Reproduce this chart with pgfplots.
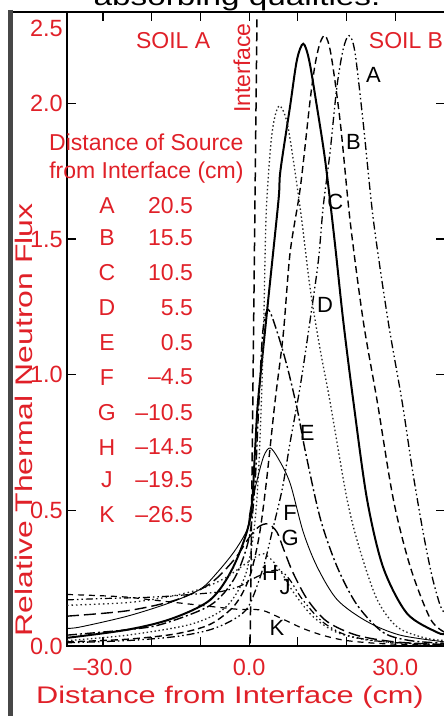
\documentclass[border=0pt]{standalone}
\usepackage{pgfplots}
\pgfplotsset{compat=1.18}
\usepackage{fontspec}
\setmainfont{Liberation Sans}
\newfontfamily\xlabfamily[FakeStretch=1.28]{Liberation Sans}
\newfontfamily\ylabfamily[FakeStretch=1.33]{Liberation Sans}
\definecolor{figred}{RGB}{224,32,40}
\newcommand{\tickfont}{\fontsize{23.5bp}{26bp}\selectfont}
\newcommand{\redfont}{\fontsize{23bp}{27bp}\selectfont}
\newcommand{\curvefont}{\fontsize{22bp}{26bp}\selectfont}
\begin{document}
\begin{tikzpicture}
\useasboundingbox (0,0) rectangle (444bp,716bp);
\begin{axis}[
  at={(67bp,70bp)}, anchor=south west,
  scale only axis, width=378bp, height=634bp,
  xmin=-37.4, xmax=40.2, ymin=0, ymax=2.337,
  axis line style={line width=1.3bp},
  tick align=inside, major tick length=9bp,
  every tick/.style={black, line width=1.2bp},
  xtick={-30,-20,-10,0,10,20,30},
  xticklabels={{–30.0},{},{},{0.0},{},{},{30.0}},
  ytick={0,0.5,1,1.5,2},
  yticklabels={{0.0},{0.5},{1.0},{1.5},{2.0}},
  extra y ticks={2.278}, extra y tick labels={{2.5}},
  extra y tick style={major tick length=0pt},
  ticklabel style={font=\tickfont, text=figred, inner sep=0pt},
  xticklabel style={anchor=north, yshift=-13bp},
  yticklabel style={anchor=east, xshift=-4bp},
  clip=true, clip mode=individual,
]
% Interface line
\addplot[black, line width=1.5bp, dash pattern=on 9bp off 5bp] coordinates {(0.2,0.01) (1.6,2.31)};
% A (20.5)
\addplot[black, line width=1.3bp, smooth, tension=0.5, dash pattern=on 8bp off 3bp on 1.5bp off 3bp on 1.5bp off 3bp] coordinates {
(-37.4,0.012)(-25,0.02)(-15,0.035)(-8,0.06)(-3,0.1)(0,0.15)(2.9,0.29)(4.7,0.42)(6.8,0.58)(8.4,0.75)(10.5,0.96)(12.5,1.2)(14.2,1.42)(15.2,1.62)(16.6,1.82)(18,2.06)(19.3,2.2)(20.5,2.25)(21.7,2.19)(23.4,1.93)(25.5,1.57)(28.5,1.2)(31.4,0.9)(33.5,0.65)(35.7,0.42)(37.5,0.26)(39.2,0.15)(40.2,0.12)};
% B (15.5)
\addplot[black, line width=1.4bp, smooth, tension=0.5, dash pattern=on 7bp off 4bp] coordinates {
(-37.4,0.015)(-25,0.025)(-15,0.045)(-8,0.08)(-3,0.15)(0,0.25)(2,0.4)(3.5,0.6)(5.3,0.9)(7,1.15)(8.4,1.45)(10.5,1.69)(12.5,2.01)(13.5,2.14)(14.5,2.22)(15.6,2.25)(16.8,2.18)(18.7,1.93)(20.7,1.57)(23.4,1.2)(26.3,0.9)(29.6,0.54)(33.1,0.29)(37.2,0.10)(40.2,0.05)};
% C (10.5)
\addplot[black, line width=2bp, smooth, tension=0.5] coordinates {
(-37.4,0.03)(-25,0.06)(-16,0.1)(-8,0.17)(-3.3,0.29)(0.2,0.47)(1.2,0.72)(1.8,0.9)(3.7,1.24)(6,1.64)(6.4,1.75)(8.4,1.99)(9.8,2.16)(11.1,2.22)(12.3,2.16)(13.8,2.0)(15.6,1.79)(17.5,1.5)(19.3,1.2)(21.4,0.9)(24.2,0.54)(27.5,0.29)(32.4,0.12)(38.6,0.05)(40.2,0.045)};
% D (5.5)
\addplot[black!85, line width=1.3bp, smooth, tension=0.5, dash pattern=on 1.5bp off 2.5bp] coordinates {
(-37.4,0.02)(-25,0.04)(-12,0.08)(-5,0.14)(-1,0.25)(0.8,0.4)(1.8,0.6)(2.5,0.9)(3.0,1.2)(3.5,1.6)(4.5,1.86)(5.4,1.96)(6.4,1.99)(8,1.91)(10.5,1.61)(12.5,1.32)(14.5,1.1)(16.6,0.9)(20.1,0.54)(22.8,0.35)(26.3,0.17)(30.4,0.07)(36,0.03)(40.2,0.02)};
% E (0.5)
\addplot[black, line width=1.4bp, smooth, tension=0.5, dash pattern=on 10bp off 3bp on 2bp off 3bp] coordinates {
(-37.4,0.04)(-25,0.06)(-18,0.08)(-8,0.15)(-3,0.25)(0,0.4)(1.2,0.6)(2,0.9)(2.8,1.16)(3.9,1.24)(5.7,1.16)(7.8,1.03)(9.9,0.87)(11.5,0.72)(14.6,0.47)(18.1,0.29)(22.2,0.15)(27.5,0.05)(33,0.02)(40.2,0.01)};
% F (-4.5)
\addplot[black, line width=0.9bp, smooth, tension=0.5] coordinates {
(-37.4,0.065)(-34.7,0.07)(-25,0.11)(-16.2,0.16)(-10,0.21)(-6.6,0.27)(-3,0.35)(-0.4,0.43)(0.2,0.5)(1.6,0.61)(3,0.7)(4.3,0.73)(6,0.69)(8.4,0.6)(11.1,0.42)(14,0.29)(18.1,0.17)(24.2,0.09)(31,0.04)(40.2,0.015)};
% G (-10.5)
\addplot[black, line width=1.4bp, smooth, tension=0.5, dash pattern=on 12bp off 5bp] coordinates {
(-37.4,0.11)(-25,0.13)(-15,0.17)(-8,0.23)(-3,0.32)(0,0.4)(2,0.44)(3.9,0.45)(5.7,0.42)(7,0.36)(9,0.27)(12,0.17)(16,0.09)(22,0.04)(30,0.015)(40.2,0.005)};
% H (-14.5)
\addplot[black!85, line width=1.3bp, smooth, tension=0.5, dash pattern=on 1.5bp off 3bp] coordinates {
(-37.4,0.15)(-25,0.16)(-17,0.18)(-10,0.21)(-5,0.25)(-1,0.3)(1.5,0.33)(3,0.34)(5,0.31)(7,0.26)(9,0.2)(13,0.11)(18,0.05)(25,0.02)(35,0.008)(40.2,0.005)};
% J (-19.5)
\addplot[black, line width=1.2bp, smooth, tension=0.5, dash pattern=on 7bp off 3bp on 1.5bp off 3bp on 1.5bp off 3bp] coordinates {
(-37.4,0.17)(-30,0.175)(-20,0.18)(-12,0.19)(-6,0.2)(-2,0.22)(1,0.25)(3.5,0.27)(5.5,0.28)(7,0.27)(8.5,0.24)(11,0.17)(15,0.09)(20,0.04)(28,0.015)(40.2,0.005)};
% K (-26.5)
\addplot[black, line width=1.2bp, smooth, tension=0.5, dash pattern=on 6bp off 5bp] coordinates {
(-37.4,0.19)(-30,0.185)(-25,0.18)(-20,0.17)(-15,0.16)(-10,0.15)(-5,0.14)(-2,0.135)(1,0.135)(3,0.13)(5,0.115)(8,0.09)(11,0.065)(15,0.04)(20,0.02)(28,0.008)(40.2,0.003)};
% curve letters
\begin{scope}[every node/.style={font=\curvefont, text=black, inner sep=0pt}]
\node at (axis cs:25.5,2.105) {A};
\node at (axis cs:21.4,1.858) {B};
\node at (axis cs:17.7,1.637) {C};
\node at (axis cs:15.6,1.257) {D};
\node at (axis cs:11.9,0.785) {E};
\node at (axis cs:8.4,0.49) {F};
\node at (axis cs:8.4,0.398) {G};
\node at (axis cs:4.3,0.269) {H};
\node at (axis cs:7.4,0.217) {J};
\node at (axis cs:5.7,0.066) {K};
\end{scope}
% red annotations
\begin{scope}[every node/.style={font=\redfont, text=figred, inner sep=0pt}]
\node[anchor=base] at (axis cs:-15.6,2.204) {SOIL A};
\node[anchor=base] at (axis cs:32.2,2.204) {SOIL B};
\node[anchor=base, rotate=90] at (axis cs:0.2,2.13) {Interface};
\node[anchor=base] at (axis cs:-21.1,1.828) {Distance of Source};
\node[anchor=base] at (axis cs:-21.1,1.725) {from Interface (cm)};
\node at (axis cs:-29.2,1.625) {A};  \node[anchor=east] at (axis cs:-11.5,1.625) {20.5};
\node at (axis cs:-29.2,1.504) {B};  \node[anchor=east] at (axis cs:-11.5,1.504) {15.5};
\node at (axis cs:-29.2,1.375) {C};  \node[anchor=east] at (axis cs:-11.5,1.375) {10.5};
\node at (axis cs:-29.2,1.246) {D};  \node[anchor=east] at (axis cs:-11.5,1.246) {5.5};
\node at (axis cs:-29.2,1.120) {E};  \node[anchor=east] at (axis cs:-11.5,1.120) {0.5};
\node at (axis cs:-29.2,0.991) {F};  \node[anchor=east] at (axis cs:-11.5,0.991) {–4.5};
\node at (axis cs:-29.2,0.862) {G};  \node[anchor=east] at (axis cs:-11.5,0.862) {–10.5};
\node at (axis cs:-29.2,0.733) {H};  \node[anchor=east] at (axis cs:-11.5,0.733) {–14.5};
\node at (axis cs:-29.2,0.612) {J};  \node[anchor=east] at (axis cs:-11.5,0.612) {–19.5};
\node at (axis cs:-29.2,0.483) {K};  \node[anchor=east] at (axis cs:-11.5,0.483) {–26.5};
\end{scope}
\end{axis}
% outer frame of the scanned page
\draw[line width=1.3bp, black] (10bp,704bp) -- (67bp,704bp);
\draw[line width=5bp, black!72] (10.5bp,706bp) -- (10.5bp,-2bp);
% axis titles
\node[anchor=base, inner sep=0pt, text=figred, font={\xlabfamily\fontsize{24bp}{28bp}\selectfont}] at (230bp,13bp) {Distance from Interface (cm)};
\node[anchor=base, rotate=90, inner sep=0pt, text=figred, font={\ylabfamily\fontsize{24bp}{28bp}\selectfont}] at (32bp,296bp) {Relative Thermal Neutron Flux};
% cut-off caption at the top
\node[anchor=base, inner sep=0pt, text=black, font={\xlabfamily\fontsize{26bp}{30bp}\selectfont}] at (237bp,710bp) {absorbing qualities.};
\end{tikzpicture}
\end{document}
